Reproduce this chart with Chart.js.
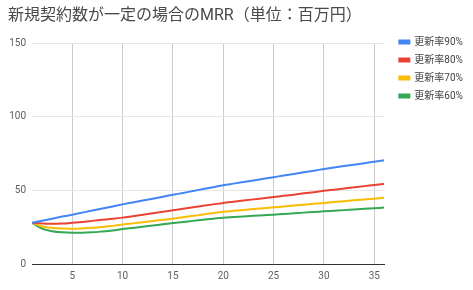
<!DOCTYPE html>
<html>
<head>
<meta charset="utf-8">
<script src="https://cdn.jsdelivr.net/npm/chart.js@4/dist/chart.umd.min.js"></script>
<style>
  html, body { margin: 0; padding: 0; background: #fff; }
  #wrap { width: 473px; height: 290px; }
</style>
</head>
<body>
<div id="wrap"><canvas id="mrrChart" width="473" height="290"></canvas></div>
<script>
    // months since start
    var months = [1, 2, 3, 4, 5, 6, 7, 8, 9, 10, 11, 12, 13, 14, 15, 16, 17, 18,
                  19, 20, 21, 22, 23, 24, 25, 26, 27, 28, 29, 30, 31, 32, 33, 34, 35, 36];
    var xTicks = [5, 10, 15, 20, 25, 30, 35];
    var yTicks = [0, 50, 100, 150];

    var seriesNames = ['更新率90%', '更新率80%', '更新率70%', '更新率60%'];

    var rate90 = [28, 29.4, 30.8, 32.2, 33.5, 34.9, 36.3, 37.7, 39.1, 40.5, 41.8, 43.1,
                  44.4, 45.7, 47, 48.3, 49.6, 50.9, 52.2, 53.5, 54.6, 55.7, 56.8, 57.9,
                  59, 60.1, 61.2, 62.3, 63.4, 64.5, 65.5, 66.5, 67.5, 68.5, 69.5, 70.5];
    var rate80 = [28, 27.5, 27.3, 27.5, 28, 28.6, 29.3, 30, 30.7, 31.5, 32.5, 33.5,
                  34.5, 35.5, 36.5, 37.5, 38.5, 39.5, 40.5, 41.5, 42.3, 43.1, 43.9, 44.7,
                  45.5, 46.3, 47.1, 48, 48.8, 49.7, 50.5, 51.3, 52.1, 52.9, 53.6, 54.4];
    var rate70 = [28, 25.5, 24.5, 24.1, 24, 24.2, 24.6, 25.1, 25.9, 26.8, 27.6, 28.4,
                  29.2, 30, 30.8, 31.8, 32.7, 33.6, 34.6, 35.5, 36.1, 36.7, 37.3, 37.9,
                  38.5, 39.1, 39.7, 40.3, 40.9, 41.5, 42.1, 42.7, 43.3, 43.9, 44.4, 45];
    var rate60 = [28, 24, 22.3, 21.5, 21.2, 21.2, 21.5, 22.1, 22.8, 23.7, 24.5, 25.3,
                  26.1, 27, 27.8, 28.6, 29.3, 30.1, 30.8, 31.5, 31.9, 32.3, 32.7, 33.1,
                  33.5, 34, 34.4, 34.9, 35.3, 35.8, 36.2, 36.6, 37.1, 37.5, 37.9, 38.3];

    var colors = ['#4285F4', '#EA4335', '#FBBC04', '#34A853'];
    var fontFamily = "Roboto, 'Noto Sans CJK JP', sans-serif";

    function toPoints(values) {
        return values.map((v, i) => ({ x: months[i], y: v }));
    }

    var allSeries = [rate90, rate80, rate70, rate60];
    var datasets = allSeries.map((vals, i) => ({
        label: seriesNames[i],
        data: toPoints(vals),
        borderColor: colors[i],
        backgroundColor: colors[i],
        borderWidth: 2,
        pointRadius: 0,
        cubicInterpolationMode: 'monotone',
        fill: false
    }));

    var ctx = document.getElementById('mrrChart').getContext('2d');
    var mrrChart = new Chart(ctx, {
        type: 'line',
        data: { datasets: datasets },
        options: {
            responsive: false,
            animation: false,
            layout: { padding: { left: 8, right: 5, top: 4, bottom: 2 } },
            scales: {
                x: {
                    type: 'linear',
                    min: 1,
                    max: 36,
                    afterBuildTicks: axis => { axis.ticks = xTicks.map(v => ({ value: v })); },
                    grid: { color: '#cccccc', drawTicks: false },
                    border: { display: true, color: '#333333', width: 1 },
                    ticks: { color: '#5f5f5f', font: { family: fontFamily, size: 10 }, padding: 6, maxRotation: 0 }
                },
                y: {
                    min: 0,
                    max: 150,
                    afterBuildTicks: axis => { axis.ticks = yTicks.map(v => ({ value: v })); },
                    afterFit: axis => { axis.width = 24; },
                    grid: { color: '#e6e6e6', drawTicks: false },
                    border: { display: false },
                    ticks: { color: '#5f5f5f', font: { family: fontFamily, size: 10 }, padding: 6 }
                },
                // empty spacer on the right, keeps a gap before the legend
                gap: {
                    position: 'right',
                    display: true,
                    afterFit: axis => { axis.width = 7; },
                    grid: { display: false },
                    border: { display: false },
                    ticks: { display: false }
                }
            },
            plugins: {
                title: {
                    display: true,
                    text: '新規契約数が一定の場合のMRR（単位：百万円）',
                    align: 'start',
                    color: '#4a4a4a',
                    font: { family: fontFamily, size: 16, weight: 'normal' },
                    padding: { top: 2, bottom: 18 }
                },
                legend: {
                    display: true,
                    position: 'right',
                    align: 'start',
                    labels: {
                        boxWidth: 10,
                        boxHeight: 3,
                        padding: 8,
                        color: '#444444',
                        font: { family: fontFamily, size: 10 }
                    },
                    title: {
                        display: true,
                        text: ' ',
                        font: { family: fontFamily, size: 10 },
                        padding: { top: 13, bottom: 0 }
                    }
                },
                tooltip: { enabled: false }
            }
        }
    });
</script>
</body>
</html>
